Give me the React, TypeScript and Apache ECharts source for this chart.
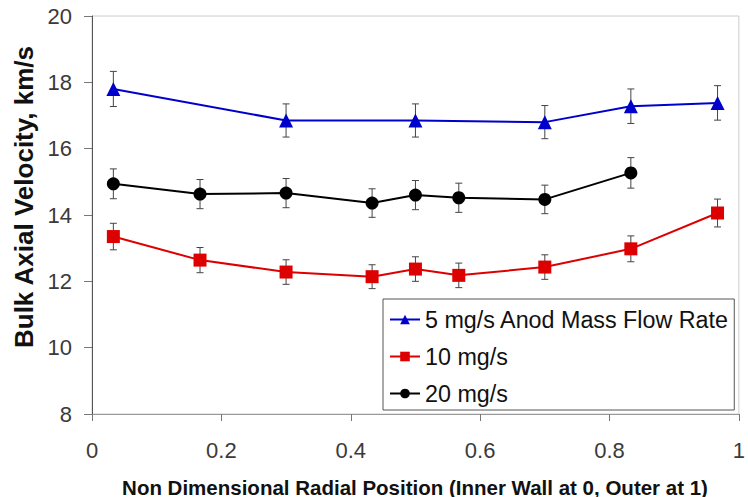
import React, { useEffect, useRef } from "react";
import * as echarts from "echarts";

const xBlue = [0.033, 0.3, 0.5, 0.7, 0.833, 0.967];
const yBlue = [17.8, 16.85, 16.85, 16.8, 17.28, 17.38];
const eBlue = [0.53, 0.5, 0.5, 0.5, 0.52, 0.52];

const xRed = [0.033, 0.167, 0.3, 0.433, 0.5, 0.567, 0.7, 0.833, 0.967];
const yRed = [13.35, 12.64, 12.28, 12.14, 12.37, 12.18, 12.43, 12.98, 14.06];
const eRed = [0.4, 0.38, 0.37, 0.36, 0.37, 0.37, 0.37, 0.39, 0.42];

const xBlack = [0.033, 0.167, 0.3, 0.433, 0.5, 0.567, 0.7, 0.833];
const yBlack = [14.94, 14.63, 14.66, 14.36, 14.6, 14.52, 14.47, 15.27];
const eBlack = [0.45, 0.44, 0.44, 0.43, 0.44, 0.44, 0.43, 0.46];

const names = ["5 mg/s Anod Mass Flow Rate", "10 mg/s", "20 mg/s"];
const xTitle = "Non Dimensional Radial Position (Inner Wall at 0, Outer at 1)";
const yTitle = "Bulk Axial Velocity, km/s";

const FONT = "'Liberation Sans', Arial, sans-serif";

function pairs(xs: number[], ys: number[]) {
  return xs.map((x, i) => [x, ys[i]]);
}
function errData(xs: number[], ys: number[], es: number[]) {
  return xs.map((x, i) => [x, ys[i] - es[i], ys[i] + es[i]]);
}

function errSeries(data: number[][]) {
  return {
    type: "custom",
    data,
    z: 1,
    silent: true,
    encode: { x: 0, y: [1, 2] },
    renderItem: (params: any, api: any) => {
      const x = api.value(0);
      const lo = api.coord([x, api.value(1)]);
      const hi = api.coord([x, api.value(2)]);
      const w = 3.5;
      const style = { stroke: "#444", lineWidth: 1 };
      return {
        type: "group",
        children: [
          { type: "line", shape: { x1: lo[0], y1: lo[1], x2: hi[0], y2: hi[1] }, style },
          { type: "line", shape: { x1: lo[0] - w, y1: lo[1], x2: lo[0] + w, y2: lo[1] }, style },
          { type: "line", shape: { x1: hi[0] - w, y1: hi[1], x2: hi[0] + w, y2: hi[1] }, style },
        ],
      };
    },
  };
}

export default function App() {
  const ref = useRef<HTMLDivElement>(null);
  useEffect(() => {
    if (!ref.current) return;
    const chart = echarts.init(ref.current, undefined, { renderer: "svg" });
    chart.setOption({
      animation: false,
      textStyle: { fontFamily: FONT },
      grid: {
        left: 92,
        right: 9,
        top: 16,
        bottom: 83,
        show: true,
        borderColor: "#cccccc",
        borderWidth: 1,
      },
      xAxis: {
        type: "value",
        min: 0,
        max: 1,
        interval: 0.2,
        axisLine: { lineStyle: { color: "#9a9a9a", width: 1 } },
        axisTick: { show: true, length: 7, lineStyle: { color: "#777" } },
        splitLine: { show: false },
        axisLabel: { fontSize: 22, color: "#3a3a3a", margin: 25, fontFamily: FONT },
      },
      yAxis: {
        type: "value",
        min: 8,
        max: 20,
        interval: 2,
        axisLine: { show: true, lineStyle: { color: "#555", width: 1 } },
        axisTick: { show: true, length: 8, lineStyle: { color: "#777" } },
        splitLine: { show: false },
        axisLabel: { fontSize: 22, color: "#3a3a3a", margin: 20, fontFamily: FONT },
      },
      legend: {
        data: names,
        orient: "vertical",
        left: 383,
        top: 299,
        itemWidth: 30,
        itemHeight: 12,
        itemGap: 14,
        padding: [9, 5, 5, 6],
        borderColor: "#555",
        borderWidth: 1,
        backgroundColor: "#fff",
        textStyle: { fontSize: 23.3, color: "#111", fontFamily: FONT },
      },
      graphic: [
        {
          type: "text",
          x: 415,
          y: 487,
          style: {
            text: xTitle,
            fontSize: 20.5,
            fontWeight: "bold",
            fill: "#111",
            fontFamily: FONT,
            textAlign: "center",
            textVerticalAlign: "middle",
          },
        },
        {
          type: "text",
          x: 24,
          y: 197,
          rotation: Math.PI / 2,
          style: {
            text: yTitle,
            fontSize: 26,
            fontWeight: "bold",
            fill: "#111",
            fontFamily: FONT,
            textAlign: "center",
            textVerticalAlign: "middle",
          },
        },
      ],
      series: [
        errSeries(errData(xBlue, yBlue, eBlue)),
        errSeries(errData(xRed, yRed, eRed)),
        errSeries(errData(xBlack, yBlack, eBlack)),
        {
          name: names[0],
          type: "line",
          data: pairs(xBlue, yBlue),
          symbol: "triangle",
          symbolSize: 14,
          z: 3,
          itemStyle: { color: "#0000cc" },
          lineStyle: { color: "#0000cc", width: 2 },
        },
        {
          name: names[1],
          type: "line",
          data: pairs(xRed, yRed),
          symbol: "rect",
          symbolSize: 13,
          z: 3,
          itemStyle: { color: "#dd0000" },
          lineStyle: { color: "#dd0000", width: 2 },
        },
        {
          name: names[2],
          type: "line",
          data: pairs(xBlack, yBlack),
          symbol: "circle",
          symbolSize: 13,
          z: 3,
          itemStyle: { color: "#000" },
          lineStyle: { color: "#000", width: 2 },
        },
      ],
    });
    return () => chart.dispose();
  }, []);
  return <div ref={ref} style={{ width: 748, height: 497, position: "absolute", left: 0, top: 0 }} />;
}
